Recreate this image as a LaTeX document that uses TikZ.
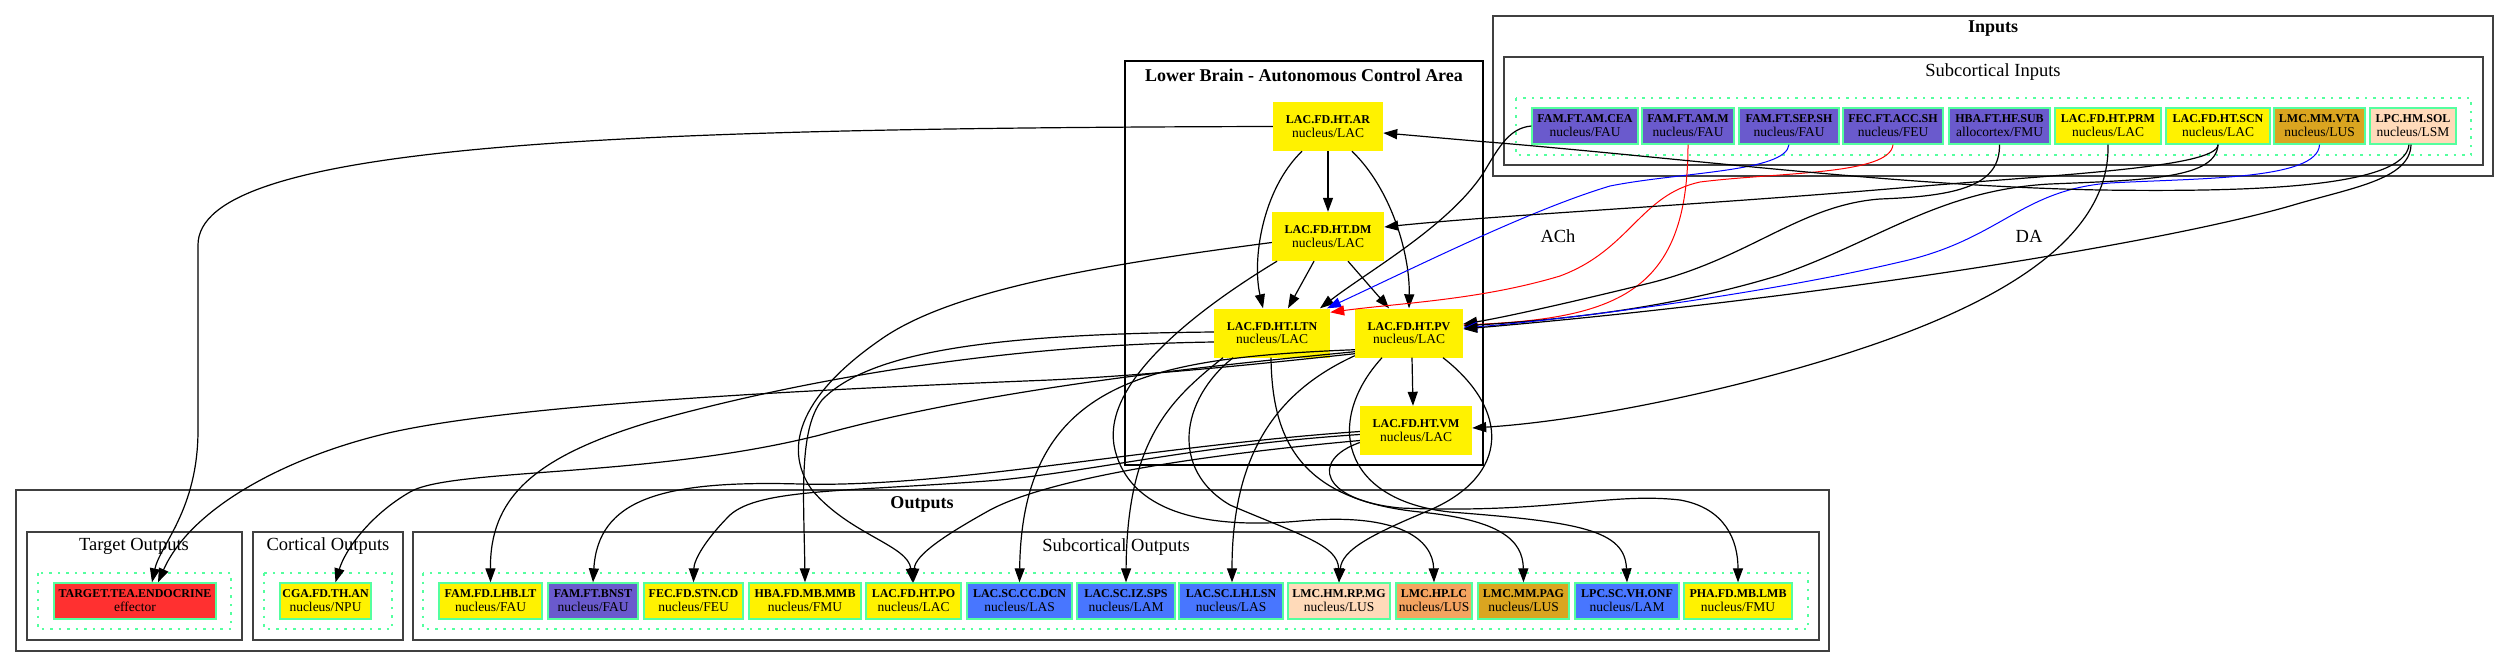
\documentclass[tikz,border=0pt]{standalone}
\usepackage{fontspec}
\setmainfont{Liberation Serif}
\usepackage{tikz}
\usetikzlibrary{arrows.meta, positioning}

\definecolor{famblue}{RGB}{106,90,205}
\definecolor{lmcgold}{RGB}{218,165,32}
\definecolor{lpcpeach}{RGB}{255,218,185}
\definecolor{lmcsand}{RGB}{244,164,96}
\definecolor{lasblue}{RGB}{72,118,255}
\definecolor{targetred}{RGB}{255,48,48}
\definecolor{rimgreen}{RGB}{84,255,159}

\newcommand{\twoline}[2]{{\fontsize{12}{14}\selectfont\bfseries #1}\\#2}

\begin{document}
\begin{tikzpicture}[
    x=1pt, y=-1pt,
    region/.style={draw=black!75, line width=1.8pt},
    nucleusset/.style={draw=rimgreen, line width=1.6pt, dash pattern=on 2.5pt off 6pt},
    title/.style={font=\fontsize{18.5}{20}\selectfont},
    boldtitle/.style={font=\fontsize{18}{20}\selectfont\bfseries},
    area/.style={rectangle, draw=rimgreen, line width=1.3pt, minimum height=36pt, inner sep=0pt, align=center, font=\fontsize{13.5}{14}\selectfont},
    hypo/.style={rectangle, fill=yellow, minimum height=49pt, inner sep=0pt, align=center, font=\fontsize{13.5}{13.5}\selectfont},
    proj/.style={-{Triangle[length=14pt, width=10pt]}, line width=1.2pt},
    inhib/.style={proj, draw=red, line width=1pt},
    modul/.style={proj, draw=blue, line width=1pt}
]
\useasboundingbox (0,0) rectangle (2509,667);

% Clusters
\draw[region] (1493,16) rectangle (2493,176);
\node[boldtitle] (inputstitle) at (1993,29) {Inputs};
\draw[region] (1504,57) rectangle (2483,165);
\node[title] (subintitle) at (1993,72) {Subcortical Inputs};
\draw[nucleusset] (1516,98) rectangle (2471,155);

\draw[black, line width=1.2pt] (1125,61) rectangle (1483,465);
\node[boldtitle] (braintitle) at (1304,75) {Lower Brain - Autonomous Control Area};

\draw[region] (16,490) rectangle (1829,651);
\node[boldtitle] (outputstitle) at (922,504) {Outputs};
\draw[region] (27,532) rectangle (242,640);
\node[title] (targettitle) at (134,546) {Target Outputs};
\draw[nucleusset] (38,573) rectangle (231,629);
\draw[region] (253,532) rectangle (403,640);
\node[title] (corttitle) at (328,546) {Cortical Outputs};
\draw[nucleusset] (264,573) rectangle (392,629);
\draw[region] (413,532) rectangle (1819,640);
\node[title] (subouttitle) at (1116,547) {Subcortical Outputs};
\draw[nucleusset] (423,573) rectangle (1808,629);

% Inputs
\node[area, fill=famblue, minimum width=106pt] (cea) at (1585,126) {\twoline{FAM.FT.AM.CEA}{nucleus/FAU}};
\node[area, fill=famblue, minimum width=92pt] (amm) at (1688,126) {\twoline{FAM.FT.AM.M}{nucleus/FAU}};
\node[area, fill=famblue, minimum width=100pt] (sepsh) at (1789,126) {\twoline{FAM.FT.SEP.SH}{nucleus/FAU}};
\node[area, fill=famblue, minimum width=100pt] (accsh) at (1893,126) {\twoline{FEC.FT.ACC.SH}{nucleus/FEU}};
\node[area, fill=famblue, minimum width=101pt] (hfsub) at (1999.5,126) {\twoline{HBA.FT.HF.SUB}{allocortex/FMU}};
\node[area, fill=yellow, minimum width=106pt] (prm) at (2108,126) {\twoline{LAC.FD.HT.PRM}{nucleus/LAC}};
\node[area, fill=yellow, minimum width=104pt] (scn) at (2218,126) {\twoline{LAC.FD.HT.SCN}{nucleus/LAC}};
\node[area, fill=lmcgold, minimum width=91pt] (vta) at (2319.5,126) {\twoline{LMC.MM.VTA}{nucleus/LUS}};
\node[area, fill=lpcpeach, minimum width=86pt] (sol) at (2413,126) {\twoline{LPC.HM.SOL}{nucleus/LSM}};

% Hypothalamus
\node[hypo, minimum width=110pt] (ar) at (1328,126.5) {\twoline{LAC.FD.HT.AR}{nucleus/LAC}};
\node[hypo, minimum width=112pt] (dm) at (1328,236.5) {\twoline{LAC.FD.HT.DM}{nucleus/LAC}};
\node[hypo, minimum width=116pt] (ltn) at (1272,333) {\twoline{LAC.FD.HT.LTN}{nucleus/LAC}};
\node[hypo, minimum width=108pt] (pv) at (1409,333) {\twoline{LAC.FD.HT.PV}{nucleus/LAC}};
\node[hypo, minimum width=112pt] (vm) at (1416,430.5) {\twoline{LAC.FD.HT.VM}{nucleus/LAC}};

% Outputs
\node[area, fill=targetred, minimum width=162pt] (endo) at (135,601) {\twoline{TARGET.TEA.ENDOCRINE}{effector}};
\node[area, fill=yellow, minimum width=91pt] (than) at (325.5,601) {\twoline{CGA.FD.TH.AN}{nucleus/NPU}};
\node[area, fill=yellow, minimum width=103pt] (lhblt) at (490.5,601) {\twoline{FAM.FD.LHB.LT}{nucleus/FAU}};
\node[area, fill=famblue, minimum width=90pt] (bnst) at (593,601) {\twoline{FAM.FT.BNST}{nucleus/FAU}};
\node[area, fill=yellow, minimum width=99pt] (stncd) at (693.5,601) {\twoline{FEC.FD.STN.CD}{nucleus/FEU}};
\node[area, fill=yellow, minimum width=112pt] (mbmmb) at (805,601) {\twoline{HBA.FD.MB.MMB}{nucleus/FMU}};
\node[area, fill=yellow, minimum width=95pt] (htpo) at (913.5,601) {\twoline{LAC.FD.HT.PO}{nucleus/LAC}};
\node[area, fill=lasblue, minimum width=105pt] (ccdcn) at (1019.5,601) {\twoline{LAC.SC.CC.DCN}{nucleus/LAS}};
\node[area, fill=lasblue, minimum width=98pt] (izsps) at (1126,601) {\twoline{LAC.SC.IZ.SPS}{nucleus/LAM}};
\node[area, fill=lasblue, minimum width=104pt] (lhlsn) at (1231,601) {\twoline{LAC.SC.LH.LSN}{nucleus/LAS}};
\node[area, fill=lpcpeach, minimum width=102pt] (rpmg) at (1339,601) {\twoline{LMC.HM.RP.MG}{nucleus/LUS}};
\node[area, fill=lmcsand, minimum width=76pt] (hplc) at (1434,601) {\twoline{LMC.HP.LC}{nucleus/LUS}};
\node[area, fill=lmcgold, minimum width=91pt] (mmpag) at (1523.5,601) {\twoline{LMC.MM.PAG}{nucleus/LUS}};
\node[area, fill=lasblue, minimum width=104pt] (vhonf) at (1627,601) {\twoline{LPC.SC.VH.ONF}{nucleus/LAM}};
\node[area, fill=yellow, minimum width=108pt] (mblmb) at (1738,601) {\twoline{PHA.FD.MB.LMB}{nucleus/FMU}};

% Within the hypothalamus
\draw[proj] (ar.south) -- (dm.north);
\draw[proj] ([xshift=-26pt]ar.south) .. controls (1262,190) and (1252,260) .. ([xshift=-9pt]ltn.north);
\draw[proj] ([xshift=24pt]ar.south) .. controls (1392,190) and (1410,255) .. (pv.north);
\draw[proj] ([xshift=-14pt]dm.south) -- ([xshift=16pt]ltn.north);
\draw[proj] ([xshift=20pt]dm.south) -- ([xshift=-20pt]pv.north);
\draw[proj] ([xshift=3pt]pv.south) -- ([xshift=-3pt]vm.north);

% Inputs to the hypothalamus
\draw[proj] (cea.west) .. controls (1510,128) and (1500,145) .. (1484,172) .. controls (1450,225) and (1370,270) .. ([xshift=48pt]ltn.north);
\draw[modul] (sepsh.south) .. controls (1786,172) and (1680,172) .. (1610,186) .. controls (1530,210) and (1420,265) .. ([xshift=55pt]ltn.north);
\draw[inhib] (accsh.south) .. controls (1890,175) and (1780,172) .. (1700,182) .. controls (1640,195) and (1630,250) .. (1560,276) .. controls (1480,300) and (1400,303) .. ([yshift=-4pt]ltn.north east);
\draw[inhib] (amm.south) .. controls (1688,290) and (1620,318) .. ([yshift=8pt]pv.east);
\draw[proj] (hfsub.south) .. controls (2000,185) and (1960,196) .. (1880,199) .. controls (1800,205) and (1750,258) .. (1650,283) .. controls (1560,305) and (1500,318) .. ([yshift=9pt]pv.east);
\draw[proj] (scn.south) .. controls (2218,168) and (2050,175) .. (1900,188) .. controls (1700,205) and (1500,215) .. ([yshift=9.5pt]dm.east);
\draw[proj] (scn.south) .. controls (2216,178) and (2150,180) .. (2050,184) .. controls (1940,190) and (1880,240) .. (1780,275) .. controls (1650,315) and (1520,322) .. ([yshift=7pt]pv.east);
\draw[modul] (vta.south) .. controls (2318,180) and (2200,178) .. (2110,183) .. controls (2020,190) and (2000,240) .. (1900,262) .. controls (1760,295) and (1560,320) .. ([yshift=5pt]pv.east);
\draw[proj] ([xshift=-2pt]sol.south) .. controls (2410,180) and (2350,188) .. (2290,206) .. controls (2150,246) and (1800,300) .. ([yshift=4pt]pv.east);
\draw[proj] ([xshift=-4pt]sol.south) .. controls (2405,188) and (2250,192) .. (2100,190) .. controls (1900,186) and (1700,160) .. (1500,143) .. controls (1450,139) and (1420,136) .. ([yshift=-6.5pt]ar.east);
\draw[proj] (prm.south) .. controls (2110,230) and (2020,290) .. (1900,335) .. controls (1780,380) and (1600,420) .. ([yshift=2.5pt]vm.east);
\node[title] (achlabel) at (1558,236) {ACh};
\node[title] (dalabel) at (2029,236) {DA};

% Hypothalamus to outputs
\draw[proj] (ar.west) .. controls (600,128) and (198,145) .. (198,245) -- (198,430) .. controls (198,510) and (160,545) .. ([xshift=17pt]endo.north);
\draw[proj] ([yshift=4pt]pv.south west) .. controls (1250,365) and (1150,375) .. (1050,380) .. controls (800,390) and (500,405) .. (380,435) .. controls (280,460) and (190,510) .. ([xshift=23pt]endo.north);
\draw[proj] ([yshift=6pt]pv.south west) .. controls (1250,362) and (1000,385) .. (820,435) .. controls (650,478) and (450,468) .. (410,492) .. controls (370,515) and (345,550) .. ([xshift=10pt]than.north);
\draw[proj] ([yshift=8pt]pv.south west) .. controls (1150,358) and (1022,380) .. (ccdcn.north);
\draw[proj] ([yshift=2pt]pv.south west) .. controls (1280,390) and (1232,450) .. ([xshift=1pt]lhlsn.north);
\draw[proj] ([yshift=-9pt]ltn.west) .. controls (1000,345) and (800,380) .. (650,422) .. controls (530,458) and (490,500) .. (lhblt.north);
\draw[proj] ([yshift=1pt]ltn.west) .. controls (1000,334) and (870,350) .. (822,400) .. controls (798,430) and (804,500) .. (mbmmb.north);
\draw[proj] ([yshift=-6pt]dm.west) .. controls (1100,265) and (950,290) .. (880,340) .. controls (805,392) and (780,445) .. (812,490) .. controls (850,535) and (908,545) .. ([xshift=-1pt]htpo.north);
\draw[proj] ([yshift=-10pt]vm.west) .. controls (1200,455) and (1050,478) .. (990,510) .. controls (945,535) and (915,555) .. (htpo.north);
\draw[proj] ([yshift=-4pt]vm.west) .. controls (1200,445) and (1100,470) .. (1000,480) .. controls (850,492) and (760,488) .. (730,515) .. controls (705,540) and (694,560) .. (stncd.north);
\draw[proj] ([yshift=-1pt]vm.west) .. controls (1150,446) and (950,488) .. (800,484) .. controls (660,480) and (598,500) .. (bnst.north);
\draw[proj] ([xshift=-49pt]ltn.south) .. controls (1170,400) and (1127,440) .. (izsps.north);
\draw[proj] ([xshift=-39pt]ltn.south) .. controls (1180,400) and (1170,470) .. (1230,505) .. controls (1300,535) and (1338,545) .. (rpmg.north);
\draw[proj] ([xshift=-1pt]ltn.south) .. controls (1272,440) and (1300,500) .. (1420,512) .. controls (1500,520) and (1523,540) .. (mmpag.north);
\draw[proj] ([xshift=-51pt]dm.south) .. controls (1180,320) and (1100,390) .. (1115,450) .. controls (1130,510) and (1200,530) .. (1300,521) .. controls (1400,512) and (1433,540) .. (hplc.north);
\draw[proj] ([xshift=34pt]pv.south) .. controls (1510,410) and (1510,475) .. (1430,510) .. controls (1370,535) and (1342,550) .. (rpmg.north);
\draw[proj] ([xshift=-27pt]pv.south) .. controls (1325,420) and (1340,500) .. (1450,512) .. controls (1580,522) and (1625,530) .. (vhonf.north);
\draw[proj] ([yshift=-12pt]vm.west) .. controls (1310,460) and (1320,500) .. (1400,508) .. controls (1550,514) and (1610,492) .. (1680,500) .. controls (1725,508) and (1738,540) .. (mblmb.north);

\end{tikzpicture}
\end{document}
